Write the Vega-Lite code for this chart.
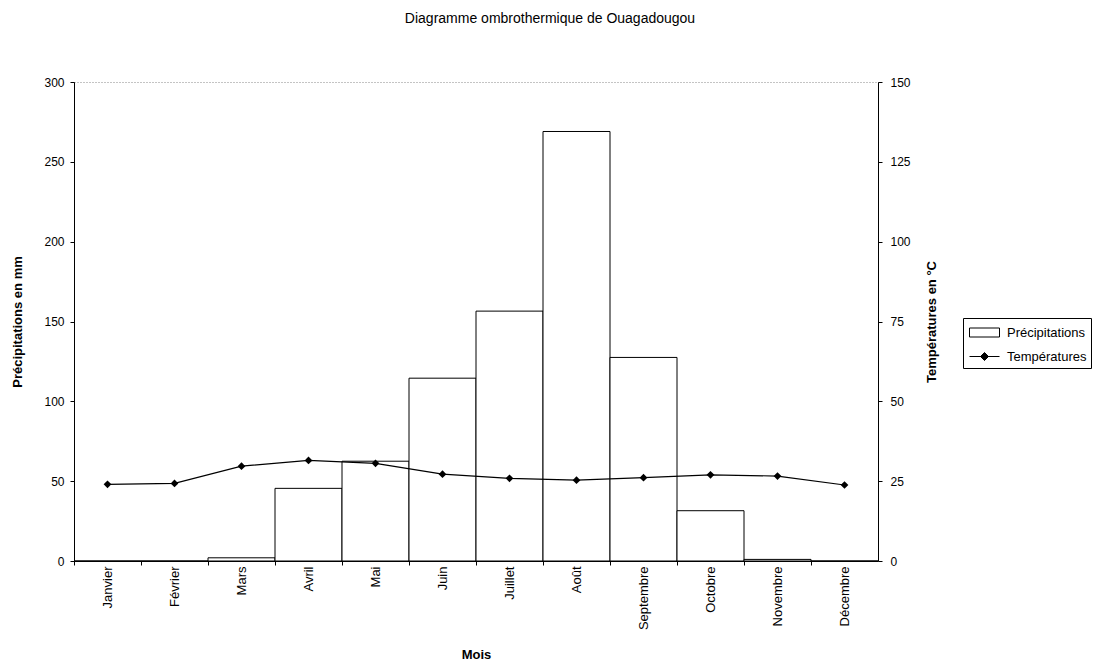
{
  "$schema": "https://vega.github.io/schema/vega-lite/v6.json",
  "autosize": {"type": "none"},
  "width": 804,
  "height": 479,
  "padding": {"left": 74, "top": 82, "right": 220, "bottom": 105},
  "background": "white",
  "view": {"stroke": "#888", "strokeDash": [1, 2], "strokeWidth": 1},
  "config": {
    "font": "Liberation Sans",
    "axis": {"labelFont": "Liberation Sans", "titleFont": "Liberation Sans", "labelColor": "black", "titleColor": "black", "domainColor": "black", "tickColor": "black", "grid": false, "labelFontSize": 12, "titleFontSize": 13, "titleFontWeight": "bold", "tickSize": 4}
  },
  "title": {"text": "Diagramme ombrothermique de Ouagadougou", "font": "Liberation Sans", "fontSize": 14, "fontWeight": "normal", "color": "black", "anchor": "middle", "dx": 74, "offset": 50},
  "data": {
    "values": [
      {"mois": "Janvier", "precip": 0, "temp": 24.0},
      {"mois": "Février", "precip": 0, "temp": 24.3},
      {"mois": "Mars", "precip": 2, "temp": 29.7},
      {"mois": "Avril", "precip": 45.5, "temp": 31.5},
      {"mois": "Mai", "precip": 62.5, "temp": 30.6},
      {"mois": "Juin", "precip": 114.5, "temp": 27.2},
      {"mois": "Juillet", "precip": 156.5, "temp": 25.9},
      {"mois": "Août", "precip": 269, "temp": 25.3},
      {"mois": "Septembre", "precip": 127.5, "temp": 26.1},
      {"mois": "Octobre", "precip": 31.5, "temp": 27.0},
      {"mois": "Novembre", "precip": 1, "temp": 26.6},
      {"mois": "Décembre", "precip": 0, "temp": 23.8}
    ]
  },
  "encoding": {
    "x": {
      "field": "mois", "type": "nominal", "sort": null,
      "scale": {"paddingInner": 0, "paddingOuter": 0},
      "axis": {"title": "Mois", "labelAngle": -90, "labelFontSize": 13, "bandPosition": 0, "labelPadding": 1, "titlePadding": 19}
    }
  },
  "layer": [
    {
      "mark": {"type": "bar", "stroke": "black", "strokeWidth": 1},
      "encoding": {
        "y": {"field": "precip", "type": "quantitative", "scale": {"domain": [0, 300]},
          "axis": {"title": "Précipitations en mm", "values": [0, 50, 100, 150, 200, 250, 300], "titlePadding": 19, "labelPadding": 6}},
        "fill": {"datum": "Précipitations", "type": "nominal",
          "scale": {"domain": ["Précipitations", "Températures"], "range": ["white", "black"]},
          "legend": {
            "title": null, "orient": "none", "legendX": 889, "legendY": 236,
            "strokeColor": "black", "padding": 4, "labelFont": "Liberation Sans", "labelFontSize": 13, "labelColor": "black",
            "symbolSize": 400, "rowPadding": 6, "symbolOffset": 7, "labelOffset": 12,
            "symbolType": {"expr": "datum.value === 'Précipitations' ? 'M-1.5,-0.45H1.5V0.45H-1.5Z' : 'M-1.5,0H1.5M-0.4,0L0,-0.4L0.4,0L0,0.4Z'"},
            "symbolStrokeColor": "black",
            "symbolStrokeWidth": 1
          }}
      }
    },
    {
      "mark": {"type": "line", "color": "black", "strokeWidth": 1.2,
        "point": {"shape": "diamond", "filled": true, "color": "black", "size": 60}},
      "encoding": {
        "y": {"field": "temp", "type": "quantitative", "scale": {"domain": [0, 150]},
          "axis": {"orient": "right", "title": "Températures en °C", "titleAngle": -90, "values": [0, 25, 50, 75, 100, 125, 150], "labelPadding": 8, "titlePadding": 28}}
      }
    }
  ],
  "resolve": {"scale": {"y": "independent"}}
}
